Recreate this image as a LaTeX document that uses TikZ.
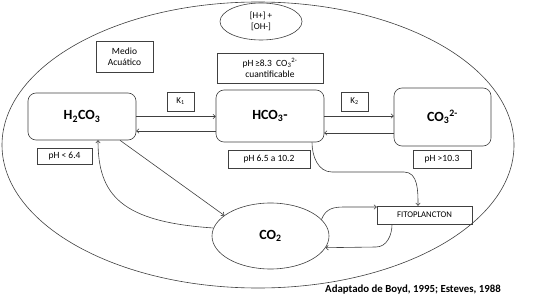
\documentclass[tikz,border=0pt]{standalone}
\usepackage{fontspec}
\setmainfont{Carlito}
\usetikzlibrary{shapes.geometric,arrows.meta}
\begin{document}
\begin{tikzpicture}[x=1pt,y=1pt,
  line/.style={draw=black!75,line width=0.6pt},
  arr/.style={line,-{To[length=3pt,width=5pt]}},
  sqbox/.style={line,rectangle,inner sep=0pt,align=center,font=\fontsize{9.5}{11}\selectfont},
  rbox/.style={line,rectangle,rounded corners=8pt,inner sep=0pt,font=\fontsize{14}{16}\selectfont\bfseries},
  ell/.style={line,ellipse,inner sep=0pt,align=center}]
\useasboundingbox (0,0) rectangle (545,-299);
\node[ell,minimum width=512pt,minimum height=286pt] (big) at (258,-145) {};
\node[ell,minimum width=82pt,minimum height=37pt,font=\fontsize{9}{11}\selectfont] (hoh) at (261,-21.5) {{[H+] +}\\{}{[OH-]}};
\node[sqbox,minimum width=57pt,minimum height=31pt] (medio) at (124.5,-56.5) {Medio\\Acuático};
\node[sqbox,minimum width=106pt,minimum height=30pt] (ph83) at (270,-68) {pH\,≥8.3 \ CO\textsubscript{3}\textsuperscript{2-}\\cuantificable};
\node[rbox,minimum width=108pt,minimum height=47pt] (h2co3) at (82,-116.5) {H\textsubscript{2}CO\textsubscript{3}};
\node[rbox,minimum width=108pt,minimum height=52pt] (hco3) at (270,-116) {HCO\textsubscript{3}-};
\node[rbox,minimum width=97pt,minimum height=58pt] (co3) at (442.5,-117) {CO\textsubscript{3}\textsuperscript{2-}};
\node[sqbox,minimum width=27pt,minimum height=19pt,font=\fontsize{9}{11}\selectfont] (k1) at (180.5,-101.5) {K\textsubscript{1}};
\node[sqbox,minimum width=27pt,minimum height=19pt,font=\fontsize{9}{11}\selectfont] (k2) at (354.5,-101.5) {K\textsubscript{2}};
\node[sqbox,minimum width=55pt,minimum height=16pt] (ph64) at (64.5,-156) {pH < 6.4};
\node[sqbox,minimum width=82pt,minimum height=18pt] (ph65) at (269,-159) {pH 6.5 a 10.2};
\node[sqbox,minimum width=58pt,minimum height=18pt] (ph103) at (442,-159) {pH >10.3};
\node[ell,minimum width=117pt,minimum height=66pt,font=\fontsize{14}{16}\selectfont\bfseries] (co2) at (270.5,-236) {CO\textsubscript{2}};
\node[sqbox,minimum width=95pt,minimum height=18pt,font=\fontsize{8.7}{10}\selectfont] (fito) at (424.5,-215) {FITOPLANCTON};
\node[font=\fontsize{10.8}{12}\selectfont\bfseries] (credit) at (413,-290) {Adaptado de Boyd, 1995; Esteves, 1988};
% equilibria
\draw[arr] (h2co3.east) -- (h2co3.east -| hco3.west);
\draw[arr] ([yshift=-15pt]hco3.west) -- ([yshift=-15pt]hco3.west -| h2co3.east);
\draw[arr] (hco3.east) -- (hco3.east -| co3.west);
\draw[arr] ([yshift=-16pt]co3.west) -- ([yshift=-16pt]co3.west -| hco3.east);
% H2CO3 <-> CO2
\draw[arr] ([xshift=38pt]h2co3.south) -- (co2.156);
\draw[arr] (co2.172) .. controls +(-92,6) and +(0,-55) .. ([xshift=16pt]h2co3.south);
% HCO3 -> fito
\draw[arr] ([xshift=42pt]hco3.south) to[out=-90,in=180] (332,-172) -- (404,-172) to[out=0,in=90] ([xshift=-6.5pt]fito.north);
% CO2 <-> fito
\draw[arr] (co2.18) .. controls (326,-208) and (334,-207) .. (345,-207) -- ([yshift=8pt]fito.west);
\draw[arr] ([xshift=-32.5pt]fito.south) to[out=-90,in=0] (376,-247) -- (co2.-12);
\end{tikzpicture}
\end{document}
